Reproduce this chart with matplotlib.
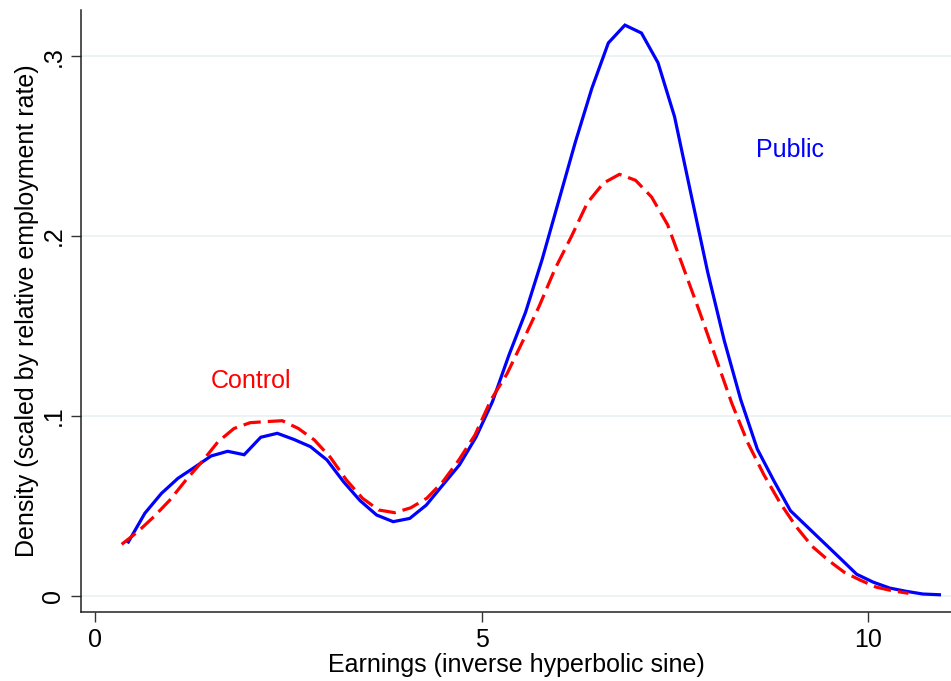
import numpy as np
import matplotlib
matplotlib.use("Agg")
import matplotlib.pyplot as plt

plt.rcParams['font.family'] = ['Liberation Sans', 'DejaVu Sans']

# Public (blue, solid): 50 evenly spaced evaluation points
public_x_start, public_x_end = 0.431, 10.92
public_y = [0.030, 0.046, 0.057, 0.0654, 0.0715, 0.0778, 0.0804, 0.0785, 0.0882, 0.0904,
            0.0870, 0.0830, 0.0756, 0.0635, 0.053, 0.045, 0.0413, 0.0431, 0.0505, 0.0617,
            0.0728, 0.0882, 0.108, 0.134, 0.1577, 0.187, 0.2195, 0.252, 0.282, 0.3073,
            0.3172, 0.3128, 0.2963, 0.2663, 0.223, 0.180, 0.142, 0.109, 0.0816, 0.064,
            0.0474, 0.0386, 0.0298, 0.021, 0.0121, 0.0077, 0.0044, 0.0026, 0.0011, 0.0007]

# Control (red, dashed)
control_x_start, control_x_end = 0.345, 10.52
control_y = [0.0287, 0.0357, 0.044, 0.0533, 0.0644, 0.0746, 0.0857, 0.0931, 0.0963, 0.0969,
             0.0974, 0.0931, 0.0867, 0.077, 0.0644, 0.0543, 0.0478, 0.0463, 0.049, 0.0543,
             0.0635, 0.0756, 0.0894, 0.109, 0.1235, 0.142, 0.161, 0.182, 0.1996, 0.2184,
             0.2294, 0.2343, 0.231, 0.2217, 0.2063, 0.182, 0.1577, 0.1324, 0.107, 0.085,
             0.0673, 0.0518, 0.0386, 0.0276, 0.0199, 0.0132, 0.0088, 0.0049, 0.0029, 0.0015]

x_ticks = [0, 5, 10]
x_tick_labels = ["0", "5", "10"]
y_ticks = [0, 0.1, 0.2, 0.3]
y_tick_labels = ["0", ".1", ".2", ".3"]

public_x = np.linspace(public_x_start, public_x_end, len(public_y))
control_x = np.linspace(control_x_start, control_x_end, len(control_y))

FS = 18

fig = plt.figure(figsize=(9.51, 6.81), dpi=100)
ax = fig.add_axes([81/951, 1-612/681, 1-81/951, (612-10)/681])

for yt in y_ticks:
    ax.axhline(yt, color='#eaf2f3', lw=1.3, zorder=0)

ax.plot(public_x, public_y, color='#0000ff', lw=2.3, solid_joinstyle='miter')
ax.plot(control_x, control_y, color='#ff0000', lw=2.3, dashes=(5.5, 2.2))

ax.text(2.018, 0.1156, "Control", color='#ff0000', fontsize=FS, ha='center', va='baseline')
ax.text(8.99, 0.244, "Public", color='#0000ff', fontsize=FS, ha='center', va='baseline')

ax.set_xlim(-0.181, 11.07)
ax.set_ylim(-0.00889, 0.3256)

ax.set_xticks(x_ticks)
ax.set_xticklabels(x_tick_labels, fontsize=FS)
ax.set_yticks(y_ticks)
ax.set_yticklabels(y_tick_labels, fontsize=FS, rotation=90, va='center')
ax.tick_params(axis='both', direction='out', length=7.2, width=1.0, color='#333333', pad=4)

for s in ['top', 'right']:
    ax.spines[s].set_visible(False)
for s in ['left', 'bottom']:
    ax.spines[s].set_linewidth(1.1)
    ax.spines[s].set_color('#222222')

ax.set_xlabel("Earnings (inverse hyperbolic sine)", fontsize=FS, labelpad=1)
ax.set_ylabel("Density (scaled by relative employment rate)", fontsize=FS, labelpad=2)

fig.savefig("out.png", dpi=100)
